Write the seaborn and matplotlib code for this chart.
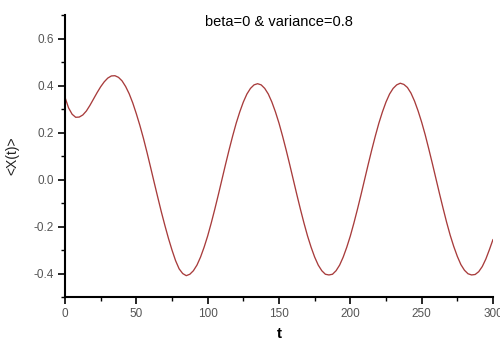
import matplotlib
matplotlib.use("Agg")
import matplotlib.pyplot as plt
from matplotlib.ticker import MultipleLocator, FormatStrFormatter
import seaborn as sns
import pandas as pd

# time axis (step 2.5) and mean response <X(t)>
t = [i * 2.5 for i in range(121)]
x_mean = [
    0.350, 0.305, 0.278, 0.265, 0.266, 0.275, 0.292, 0.316, 0.343, 0.370,
    0.395, 0.416, 0.432, 0.441, 0.442, 0.435, 0.420, 0.396, 0.365, 0.326,
    0.280, 0.230, 0.175, 0.115, 0.052, -0.012, -0.075, -0.137, -0.195, -0.250,
    -0.300, -0.345, -0.380, -0.400, -0.409, -0.403, -0.388, -0.364, -0.330, -0.288,
    -0.240, -0.185, -0.126, -0.064, 0.000, 0.064, 0.126, 0.185, 0.240, 0.288,
    0.330, 0.364, 0.388, 0.403, 0.408, 0.403, 0.388, 0.364, 0.330, 0.288,
    0.240, 0.185, 0.126, 0.064, 0.000, -0.064, -0.126, -0.185, -0.240, -0.288,
    -0.330, -0.364, -0.388, -0.403, -0.406, -0.403, -0.388, -0.364, -0.330, -0.288,
    -0.240, -0.185, -0.126, -0.064, 0.000, 0.064, 0.126, 0.185, 0.240, 0.288,
    0.330, 0.364, 0.388, 0.403, 0.410, 0.405, 0.392, 0.368, 0.334, 0.292,
    0.244, 0.190, 0.130, 0.068, 0.004, -0.060, -0.122, -0.182, -0.237, -0.285,
    -0.327, -0.362, -0.386, -0.401, -0.406, -0.404, -0.392, -0.370, -0.338, -0.298,
    -0.255,
]

annotation = "beta=0 & variance=0.8"

sns.set_theme(style="ticks")
plt.rcParams["font.family"] = ["Liberation Sans", "DejaVu Sans"]
plt.rcParams["axes.unicode_minus"] = False

fig = plt.figure(figsize=(5.0, 3.43), dpi=100)
ax = fig.add_axes([0.13, 0.134, 0.856, 0.822])

df = pd.DataFrame({"t": t, "x": x_mean})
sns.lineplot(data=df, x="t", y="x", ax=ax, color="#a83c3c", linewidth=0.95)

ax.set_xlim(0, 300)
ax.set_ylim(-0.5, 0.7)
ax.xaxis.set_major_locator(MultipleLocator(50))
ax.xaxis.set_minor_locator(MultipleLocator(25))
ax.yaxis.set_minor_locator(MultipleLocator(0.1))
ax.set_yticks([-0.4, -0.2, 0.0, 0.2, 0.4, 0.6])
ax.yaxis.set_major_formatter(FormatStrFormatter("%.1f"))

for side in ("top", "right"):
    ax.spines[side].set_visible(False)
for side in ("left", "bottom"):
    ax.spines[side].set_linewidth(1.5)
    ax.spines[side].set_color("black")

ax.tick_params(axis="both", which="major", direction="out", length=5,
               width=1.2, color="black", labelsize=8.5, labelcolor="#555555", pad=3)
ax.tick_params(axis="both", which="minor", direction="out", length=3,
               width=1.0, color="black")

ax.set_xlabel("t", fontsize=11, fontweight="bold", color="black", labelpad=5)
ax.set_ylabel("<X(t)>", fontsize=10, color="#222222", labelpad=10)

ax.text(150, 0.672, annotation, ha="center", va="center", fontsize=10.5,
        color="black")

fig.savefig("out.png", dpi=100, facecolor="white")
